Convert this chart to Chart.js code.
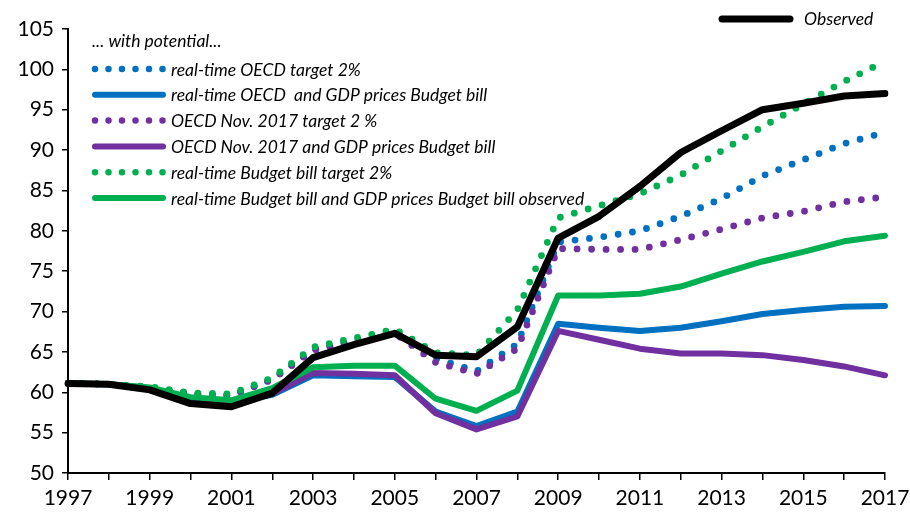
<!DOCTYPE html>
<html>
<head>
<meta charset="utf-8">
<script src="https://cdn.jsdelivr.net/npm/chart.js@4.4.1/dist/chart.umd.min.js"></script>
<style>
  html, body { margin: 0; padding: 0; background: #fff; }
  #wrap { width: 910px; height: 516px; }
</style>
</head>
<body>
<div id="wrap"><canvas id="chart" width="910" height="516"></canvas></div>
<script>
// Series
const years = ["1997","1998","1999","2000","2001","2002","2003","2004","2005","2006","2007","2008","2009","2010","2011","2012","2013","2014","2015","2016","2017"];
const observed = [61.1, 61.0, 60.3, 58.6, 58.2, 59.9, 64.3, 65.9, 67.3, 64.6, 64.4, 68.1, 79.1, 81.8, 85.5, 89.7, 92.4, 95.0, 95.8, 96.7, 97.0];
const oecdTarget = [61.1, 61.0, 60.6, 59.8, 59.6, 61.6, 65.3, 66.4, 67.4, 64.2, 62.6, 66.0, 78.6, 79.2, 80.0, 81.8, 84.0, 86.8, 88.8, 90.8, 92.2];
const oecdBudget = [61.1, 61.0, 60.5, 59.2, 58.8, 59.7, 62.1, 62.0, 61.9, 57.6, 55.8, 57.6, 68.5, 68.0, 67.6, 68.0, 68.8, 69.7, 70.2, 70.6, 70.7];
const novTarget = [61.1, 61.0, 60.6, 59.8, 59.6, 61.6, 65.2, 66.3, 67.3, 63.7, 62.3, 65.4, 77.8, 77.7, 77.7, 78.9, 80.2, 81.6, 82.4, 83.6, 84.2];
const novBudget = [61.1, 61.0, 60.5, 59.2, 58.8, 59.8, 62.4, 62.3, 62.1, 57.4, 55.4, 57.0, 67.6, 66.5, 65.4, 64.8, 64.8, 64.6, 64.0, 63.2, 62.1];
const billTarget = [61.1, 61.0, 60.7, 59.9, 59.8, 61.8, 65.6, 66.7, 67.8, 64.9, 64.6, 70.2, 81.6, 83.1, 84.6, 86.9, 89.9, 92.9, 95.7, 98.5, 101.0];
const billBudget = [61.1, 61.0, 60.6, 59.4, 59.0, 60.5, 63.1, 63.3, 63.3, 59.2, 57.7, 60.2, 72.0, 72.0, 72.2, 73.1, 74.7, 76.2, 77.4, 78.7, 79.4];

const BLUE = "#0070C0";
const PURPLE = "#7030A0";
const GREEN = "#00B050";
const FONT = "Lato, 'Open Sans', sans-serif";

// legend entries, in the order shown in the picture
const legendItems = [
  { text: "real-time OECD target 2%", color: BLUE, dotted: true },
  { text: "real-time OECD  and GDP prices Budget bill", color: BLUE, dotted: false },
  { text: "OECD Nov. 2017 target 2 %", color: PURPLE, dotted: true },
  { text: "OECD Nov. 2017 and GDP prices Budget bill", color: PURPLE, dotted: false },
  { text: "real-time Budget bill target 2%", color: GREEN, dotted: true },
  { text: "real-time Budget bill and GDP prices Budget bill observed", color: GREEN, dotted: false },
];

function lineSet(label, data, color, dotted, width) {
  return {
    label: label,
    data: data,
    borderColor: color,
    backgroundColor: color,
    borderWidth: width || (dotted ? 6.8 : 6),
    borderDash: dotted ? [0, 14.5] : [],
    borderCapStyle: "round",
    borderJoinStyle: "round",
    pointRadius: 0,
    tension: 0,
    fill: false,
  };
}

// custom legend drawn on the canvas
const sketchLegend = {
  id: "sketchLegend",
  afterDraw(chart) {
    const ctx = chart.ctx;
    ctx.save();
    ctx.textBaseline = "middle";
    ctx.textAlign = "left";
    ctx.fillStyle = "#000";
    ctx.font = "italic 17.5px " + FONT;
    ctx.fillText("... with potential...", 92, 41);

    legendItems.forEach((item, i) => {
      const y = 69 + i * 25.8;
      ctx.beginPath();
      ctx.strokeStyle = item.color;
      ctx.lineWidth = item.dotted ? 6.5 : 6;
      ctx.lineCap = "round";
      ctx.setLineDash(item.dotted ? [0, 13.5] : []);
      ctx.moveTo(95, y);
      ctx.lineTo(163, y);
      ctx.stroke();
      ctx.setLineDash([]);
      ctx.fillStyle = "#000";
      ctx.fillText(item.text, 171, y + 1);
    });

    // Observed entry, top right
    ctx.beginPath();
    ctx.strokeStyle = "#000";
    ctx.lineWidth = 7;
    ctx.lineCap = "round";
    ctx.moveTo(722, 19);
    ctx.lineTo(790, 19);
    ctx.stroke();
    ctx.fillText("Observed", 804, 19);
    ctx.restore();
  },
};

const ctx = document.getElementById("chart").getContext("2d");
new Chart(ctx, {
  type: "line",
  data: {
    labels: years,
    // first dataset is painted last (on top)
    datasets: [
      lineSet("Observed", observed, "#000", false, 7),
      lineSet("real-time Budget bill and GDP prices Budget bill observed", billBudget, GREEN, false),
      lineSet("real-time Budget bill target 2%", billTarget, GREEN, true),
      lineSet("OECD Nov. 2017 and GDP prices Budget bill", novBudget, PURPLE, false),
      lineSet("OECD Nov. 2017 target 2 %", novTarget, PURPLE, true),
      lineSet("real-time OECD  and GDP prices Budget bill", oecdBudget, BLUE, false),
      lineSet("real-time OECD target 2%", oecdTarget, BLUE, true),
    ],
  },
  options: {
    responsive: false,
    animation: false,
    layout: { padding: { top: 29, right: 25, left: 0, bottom: 0 } },
    plugins: {
      legend: { display: false },
      tooltip: { enabled: false },
    },
    scales: {
      x: {
        type: "category",
        offset: false,
        grid: {
          display: true,
          drawOnChartArea: false,
          drawTicks: true,
          tickLength: 7,
          color: "#000",
          lineWidth: 1.5,
        },
        border: { display: true, color: "#000", width: 2 },
        ticks: {
          autoSkip: false,
          maxRotation: 0,
          color: "#000",
          padding: 6,
          font: { family: FONT, size: 21 },
          callback: function (val, i) {
            return i % 2 === 0 ? this.getLabelForValue(val) : "";
          },
        },
        afterFit: (scale) => {
          scale.height = 43;
          scale.paddingRight = 0;
        },
      },
      y: {
        min: 50,
        max: 105,
        grid: {
          display: true,
          drawOnChartArea: false,
          drawTicks: true,
          tickLength: 6,
          color: "#000",
          lineWidth: 1.5,
        },
        border: { display: true, color: "#000", width: 2 },
        ticks: {
          stepSize: 5,
          color: "#000",
          padding: 8,
          font: { family: FONT, size: 21 },
        },
        afterFit: (scale) => { scale.width = 68; },
      },
    },
  },
  plugins: [sketchLegend],
});
</script>
</body>
</html>
